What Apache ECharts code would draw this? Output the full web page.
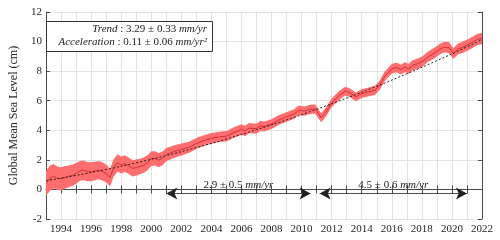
<!DOCTYPE html>
<html>
<head>
<meta charset="utf-8">
<script src="https://cdn.jsdelivr.net/npm/echarts@6/dist/echarts.min.js"></script>
<style>html,body{margin:0;padding:0;background:#fff}#main{width:500px;height:240px}</style>
</head>
<body>
<div id="main"></div>
<script>
// GMSL record (cm)
var years = [1993.0,1993.25,1993.5,1993.75,1994.0,1994.25,1994.5,1994.75,1995.0,1995.25,1995.5,1995.75,
  1996.0,1996.25,1996.5,1996.75,1997.0,1997.25,1997.5,1997.75,1998.0,1998.25,1998.5,1998.75,
  1999.0,1999.25,1999.5,1999.75,2000.0,2000.25,2000.5,2000.75,2001.0,2001.5,2002.0,2002.5,
  2003.0,2003.5,2004.0,2004.5,2005.0,2005.5,2006.0,2006.25,2006.5,2007.0,2007.25,2007.5,
  2008.0,2008.5,2009.0,2009.5,2009.8,2010.2,2010.5,2010.9,2011.3,2011.6,2012.0,2012.5,
  2012.9,2013.2,2013.6,2014.0,2014.4,2014.9,2015.2,2015.5,2015.75,2016.0,2016.3,2016.6,
  2016.9,2017.1,2017.4,2017.7,2018.0,2018.4,2018.8,2019.2,2019.5,2019.8,2020.1,2020.4,
  2020.7,2021.0,2021.4,2021.7,2022.0];
var gmsl = [0.40,0.75,0.90,0.75,0.72,0.80,0.88,0.95,1.08,1.25,1.30,1.20,
  1.19,1.25,1.30,1.22,1.08,0.80,1.45,1.80,1.65,1.75,1.60,1.42,
  1.48,1.55,1.64,1.80,2.09,2.10,1.98,2.10,2.35,2.55,2.70,2.85,
  3.10,3.30,3.45,3.55,3.60,3.85,4.05,3.95,4.15,4.10,4.30,4.25,
  4.42,4.70,4.90,5.10,5.35,5.30,5.40,5.45,4.85,5.20,5.85,6.35,
  6.65,6.55,6.26,6.48,6.58,6.72,7.05,7.60,7.90,8.15,8.25,8.10,
  8.28,8.15,8.40,8.50,8.62,8.96,9.20,9.50,9.62,9.60,9.19,9.50,
  9.60,9.75,9.97,10.15,10.20];
// half width of the shaded uncertainty band (cm)
var unc = [0.85,0.85,0.82,0.80,0.78,0.76,0.74,0.72,0.70,0.68,0.66,0.65,
  0.64,0.63,0.62,0.61,0.60,0.60,0.59,0.58,0.57,0.56,0.56,0.55,
  0.54,0.53,0.52,0.51,0.50,0.49,0.48,0.46,0.45,0.42,0.40,0.38,
  0.37,0.36,0.36,0.35,0.35,0.35,0.35,0.35,0.35,0.34,0.34,0.34,
  0.33,0.33,0.32,0.32,0.32,0.31,0.31,0.31,0.30,0.30,0.30,0.30,
  0.30,0.30,0.30,0.30,0.30,0.31,0.31,0.32,0.32,0.33,0.33,0.33,
  0.34,0.34,0.34,0.35,0.35,0.35,0.36,0.36,0.36,0.37,0.37,0.37,
  0.38,0.38,0.38,0.38,0.38];
// quadratic trend (dashed)
var trendYears = [1993,1995,1997,1999,2001,2003,2005,2007,2009,2011,2013,2015,2017,2019,2021,2022];
var trendVals = [0.59,0.95,1.35,1.80,2.29,2.83,3.41,4.04,4.70,5.42,6.18,6.98,7.82,8.71,9.64,10.13];
// rate arrows
var arrowSpans = [[2001, 2010.6], [2011.2, 2021]];
var arrowLevel = -0.27;
var rateLabels = ['2.9 ± 0.5', '4.5 ± 0.6'];

var serif = '"Liberation Serif", "DejaVu Serif", serif';
var axisCol = '#4a4a4a';

var myChart = echarts.init(document.getElementById('main'));

var lineData = years.map(function (y, i) { return [y, gmsl[i]]; });
var trendData = trendYears.map(function (y, i) { return [y, trendVals[i]]; });
var arrowLines = arrowSpans.map(function (s, i) {
    return [
        { coord: [s[0], arrowLevel], label: { formatter: rateLabels[i] + ' {i|mm/yr}' } },
        { coord: [s[1], arrowLevel] }
    ];
});

var option = {
    animation: false,
    grid: { left: 37, right: 18, top: 12, bottom: 21 },
    xAxis: [{
        type: 'value', min: 1993, max: 2022, interval: 1,
        axisLine: { lineStyle: { color: axisCol } },
        axisTick: { inside: true, length: 4, lineStyle: { color: axisCol } },
        axisLabel: {
            margin: 5, color: '#262626', fontFamily: serif, fontSize: 11,
            formatter: function (v) { return v % 2 === 0 ? String(v) : ''; }
        },
        splitLine: { show: true, lineStyle: { color: '#e3e3e3', width: 1 } }
    }, {
        type: 'value', position: 'top', min: 1993, max: 2022, interval: 1,
        axisLine: { show: true, lineStyle: { color: axisCol } },
        axisTick: { show: true, inside: true, length: 4, lineStyle: { color: axisCol } },
        axisLabel: { show: false },
        splitLine: { show: false }
    }],
    yAxis: [{
        type: 'value', min: -2, max: 12, interval: 2,
        name: 'Global Mean Sea Level (cm)', nameLocation: 'middle', nameGap: 26,
        nameTextStyle: { fontFamily: serif, fontSize: 12, color: '#262626' },
        axisLine: { show: true, lineStyle: { color: axisCol } },
        axisTick: { show: true, inside: true, length: 4, lineStyle: { color: axisCol } },
        axisLabel: { margin: 4, color: '#262626', fontFamily: serif, fontSize: 11 },
        splitLine: { show: true, lineStyle: { color: '#e3e3e3', width: 1 } }
    }, {
        type: 'value', position: 'right', min: -2, max: 12, interval: 2,
        axisLine: { show: true, lineStyle: { color: axisCol } },
        axisTick: { show: true, inside: true, length: 4, lineStyle: { color: axisCol } },
        axisLabel: { show: false },
        splitLine: { show: false }
    }],
    graphic: [{
        type: 'rect', z: 100,
        shape: { x: 46.5, y: 21.5, width: 166, height: 30 },
        style: { fill: '#fff', stroke: '#333', lineWidth: 1 }
    }, {
        type: 'text', z: 101, x: 207, y: 29,
        style: {
            text: '{i|Trend} : 3.29 ± 0.33 {i|mm/yr}', align: 'right', verticalAlign: 'middle',
            font: '11px ' + serif, fill: '#222',
            rich: { i: { fontStyle: 'italic', fontFamily: serif, fontSize: 11 } }
        }
    }, {
        type: 'text', z: 101, x: 207, y: 42,
        style: {
            text: '{i|Acceleration} : 0.11 ± 0.06 {i|mm/yr²}', align: 'right', verticalAlign: 'middle',
            font: '11px ' + serif, fill: '#222',
            rich: { i: { fontStyle: 'italic', fontFamily: serif, fontSize: 11 } }
        }
    }],
    series: [{
        // uncertainty band: gmsl +/- unc, drawn as one polygon
        type: 'custom', z: 1, clip: true,
        data: [[years[0], gmsl[0]]],
        renderItem: function (params, api) {
            var pts = [];
            for (var i = 0; i < years.length; i++) pts.push(api.coord([years[i], gmsl[i] + unc[i]]));
            for (var j = years.length - 1; j >= 0; j--) pts.push(api.coord([years[j], gmsl[j] - unc[j]]));
            return { type: 'polygon', shape: { points: pts }, style: { fill: '#ff6e6e' } };
        }
    }, {
        type: 'line', z: 3, data: lineData, symbol: 'none',
        lineStyle: { color: '#c8202a', width: 0.8 }
    }, {
        type: 'line', z: 4, data: trendData, symbol: 'none', smooth: true,
        lineStyle: { color: '#111', width: 0.9, type: [2, 2] }
    }, {
        type: 'line', z: 5, data: [], symbol: 'none',
        markLine: {
            silent: true, symbol: ['arrow', 'arrow'], symbolSize: [9, 11],
            lineStyle: { color: '#222', width: 0.8, type: 'solid' },
            label: {
                position: 'middle', distance: 3, color: '#222',
                fontFamily: serif, fontSize: 11,
                rich: { i: { fontStyle: 'italic', fontFamily: serif, fontSize: 11 } }
            },
            data: arrowLines
        }
    }]
};

myChart.setOption(option);
</script>
</body>
</html>
